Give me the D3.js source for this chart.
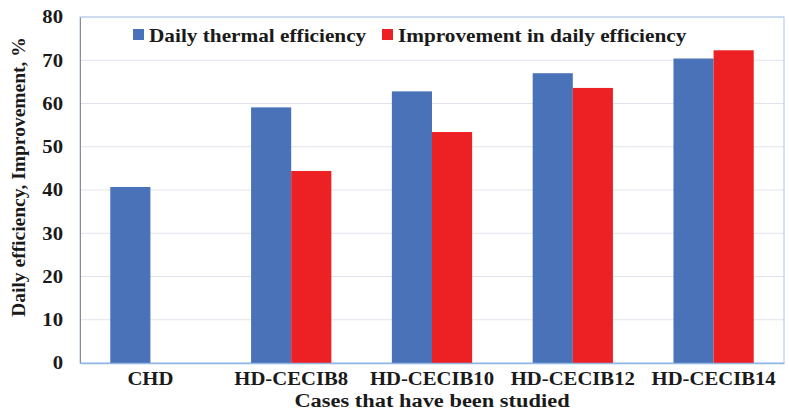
<!DOCTYPE html>
<html lang="en">
<head>
<meta charset="utf-8">
<title>Daily efficiency chart</title>
<script src="https://d3js.org/d3.v7.min.js"></script>
<style>
  body { margin: 0; background: #fff; }
  text { font-family: "Liberation Serif", "Times New Roman", serif; font-weight: bold; fill: #1a1a1a; }
</style>
</head>
<body>
<script>
// chart data
var cases = ["CHD", "HD-CECIB8", "HD-CECIB10", "HD-CECIB12", "HD-CECIB14"];
var seriesNames = ["Daily thermal efficiency", "Improvement in daily efficiency"];
var dailyEff = [40.7, 59.1, 62.8, 67.0, 70.4];
var improvement = [null, 44.4, 53.4, 63.6, 72.3];
var yTicks = [0, 10, 20, 30, 40, 50, 60, 70, 80];
var colors = ["#4a72b8", "#ed2024"];

var W = 789, H = 416;
var margin = {top: 17, right: 5, bottom: 53, left: 80};
var w = W - margin.left - margin.right, h = H - margin.top - margin.bottom;
var stretch = 1.15; // the source text looks horizontally widened

var svg = d3.select("body").append("svg")
    .attr("width", W).attr("height", H);

var g = svg.append("g")
    .attr("transform", "translate(" + margin.left + "," + margin.top + ")");

var x = d3.scaleBand().domain(cases).range([0, w]).paddingInner(0.43).paddingOuter(0.215);
var xs = d3.scaleBand().domain([0, 1]).range([0, x.bandwidth()]);
var y = d3.scaleLinear().domain([0, 80]).range([h, 0]);

// gridlines
g.selectAll(".grid").data(yTicks.slice(1)).enter().append("line")
    .attr("x1", 0).attr("x2", w)
    .attr("y1", function(d) { return y(d); }).attr("y2", function(d) { return y(d); })
    .attr("stroke", "#dfe4ec").attr("stroke-width", 1);

// plot border
g.append("rect").attr("x", 0).attr("y", 0).attr("width", w).attr("height", h)
    .attr("fill", "none").attr("stroke", "#a9c6e8").attr("stroke-width", 1);

// bars
var rows = cases.map(function(c, i) { return {c: c, v: [dailyEff[i], improvement[i]]}; });
var grp = g.selectAll(".grp").data(rows).enter().append("g")
    .attr("transform", function(d) { return "translate(" + x(d.c) + ",0)"; });
grp.selectAll("rect").data(function(d) { return d.v.map(function(v, k) { return {k: k, v: v}; }).filter(function(e) { return e.v != null; }); })
    .enter().append("rect")
    .attr("x", function(d) { return xs(d.k); })
    .attr("width", xs.bandwidth())
    .attr("y", function(d) { return y(d.v); })
    .attr("height", function(d) { return h - y(d.v); })
    .attr("fill", function(d) { return colors[d.k]; });

// y axis
var yAxis = g.append("g").call(d3.axisLeft(y).tickValues(yTicks).tickSize(0));
yAxis.select(".domain").attr("stroke", "#8c8c8c");
yAxis.selectAll("text").attr("font-size", 18)
    .attr("x", -17 / stretch).attr("transform", "scale(" + stretch + ",1)");

// x axis
var xAxis = g.append("g").attr("transform", "translate(0," + h + ")")
    .call(d3.axisBottom(x).tickSize(0).tickPadding(9));
xAxis.select(".domain").attr("stroke", "#8fb8e2").attr("stroke-width", 1.5);
xAxis.selectAll("text").attr("font-size", 18)
    .attr("transform", "scale(" + stretch + ",1)");

// axis titles
svg.append("text")
    .attr("transform", "translate(" + (margin.left + w / 2) + ",407) scale(" + stretch + ",1)")
    .attr("text-anchor", "middle").attr("font-size", 19.5)
    .text("Cases that have been studied");
svg.append("text").attr("transform", "translate(25,177) rotate(-90)")
    .attr("text-anchor", "middle").attr("font-size", 19.5)
    .text("Daily efficiency, Improvement,  %");

// legend
var legX = [133, 382];
var leg = svg.selectAll(".leg").data(seriesNames).enter().append("g")
    .attr("transform", function(d, i) { return "translate(" + legX[i] + ",29)"; });
leg.append("rect").attr("width", 11).attr("height", 11)
    .attr("fill", function(d, i) { return colors[i]; });
leg.append("text").attr("font-size", 18.5)
    .attr("transform", "translate(16,12.5) scale(" + stretch + ",1)")
    .text(function(d) { return d; });
</script>
</body>
</html>
